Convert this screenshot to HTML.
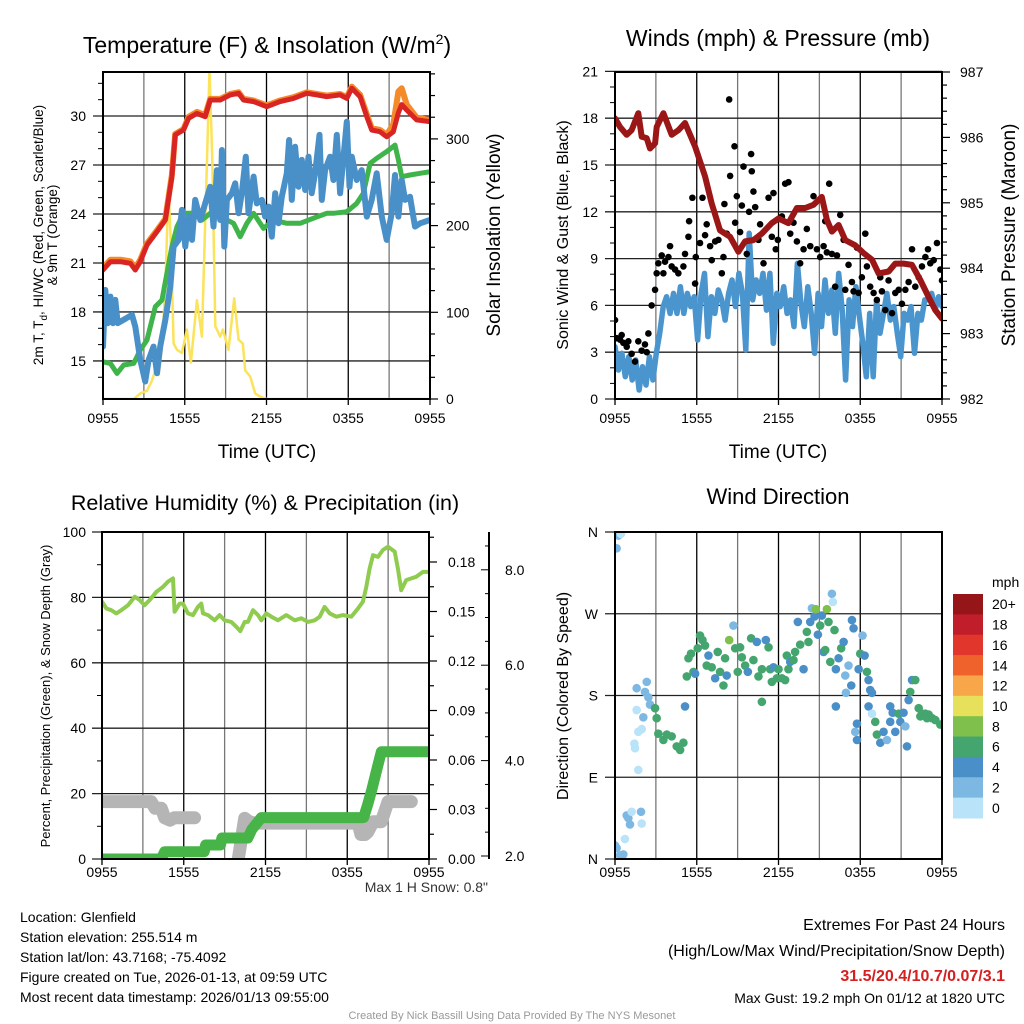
<!DOCTYPE html>
<html><head><meta charset="utf-8"><style>
html,body{margin:0;padding:0;background:#fff;}
svg{display:block;font-family:"Liberation Sans",Arial,sans-serif;}
</style></head><body>
<svg id="svg" width="1024" height="1024" viewBox="0 0 1024 1024" xmlns="http://www.w3.org/2000/svg">
<g id="g1"></g>
<g id="g2"></g>
<g id="g3"></g>
<g id="g4"></g>
<g id="txt">
<text x="20" y="922" font-size="14">Location: Glenfield</text>
<text x="20" y="942" font-size="14">Station elevation: 255.514 m</text>
<text x="20" y="962" font-size="14">Station lat/lon: 43.7168; -75.4092</text>
<text x="20" y="982" font-size="14">Figure created on Tue, 2026-01-13, at 09:59 UTC</text>
<text x="20" y="1002" font-size="14">Most recent data timestamp: 2026/01/13 09:55:00</text>
<text x="1005" y="930" font-size="16" text-anchor="end">Extremes For Past 24 Hours</text>
<text x="1005" y="956" font-size="16" text-anchor="end">(High/Low/Max Wind/Precipitation/Snow Depth)</text>
<text x="1005" y="981" font-size="16" font-weight="bold" fill="#d42020" text-anchor="end">31.5/20.4/10.7/0.07/3.1</text>
<text x="1005" y="1003" font-size="14" text-anchor="end">Max Gust: 19.2 mph On 01/12 at 1820 UTC</text>
<text x="488" y="892" font-size="14" fill="#333" text-anchor="end">Max 1 H Snow: 0.8"</text>
<text x="512" y="1019" font-size="11" fill="#999" text-anchor="middle">Created By Nick Bassill Using Data Provided By The NYS Mesonet</text>
</g>
</svg>
<script>
// ---------- DATA ----------
const timeTickLabels=["0955","1555","2155","0355","0955"];
// Panel 1
const tempHours=[0,0.54,1.27,2.0,2.37,2.74,3.23,3.96,4.57,5.06,5.30,5.91,6.28,6.89,7.50,7.87,8.60,9.34,9.95,10.31,11.05,12.02,13.0,13.98,14.96,15.69,16.42,17.40,17.89,18.26,18.87,19.36,19.72,20.33,20.82,21.31,21.68,21.92,22.29,23.02,24];
const tempValues=[20.57,21.08,21.08,20.98,20.57,21.08,22.1,22.92,23.63,26.28,28.84,29.14,29.86,30.16,29.96,30.98,30.98,31.29,31.39,30.98,30.88,30.57,30.88,31.08,31.39,31.29,31.18,31.29,31.08,31.7,31.18,29.96,29.14,29.04,28.73,29.04,30.2,30.7,30.37,29.76,29.65];
const temp9mValues=[20.7,21.2,21.2,21.1,20.7,21.2,22.2,23.0,23.7,26.4,28.9,29.2,29.95,30.25,30.05,31.05,31.05,31.35,31.45,31.05,30.95,30.65,30.95,31.15,31.45,31.35,31.25,31.35,31.15,31.8,31.3,30.1,29.25,29.15,28.85,29.5,31.5,31.7,30.7,29.9,29.75];
const dewHours=[0,0.54,1.03,1.52,2.25,2.74,3.23,3.84,4.33,4.69,5.06,5.43,5.91,6.65,7.26,7.87,8.36,9.09,9.58,10.07,10.56,11.05,11.78,12.51,13.49,14.47,15.45,16.42,16.91,17.89,18.62,19.11,19.6,20.09,20.82,21.43,21.68,21.92,22.53,23.27,24];
const dewValues=[14.95,14.85,14.24,14.75,14.85,15.67,16.28,18.32,18.73,20.37,22.0,23.22,24.04,24.04,23.63,24.04,23.83,23.63,23.43,22.61,23.43,24.04,23.12,23.63,23.43,23.43,23.74,24.04,24.04,24.14,24.65,25.27,27.1,27.41,27.82,28.22,27.31,26.28,26.39,26.49,26.59];
const chillHours=[0,0.17,0.34,0.54,0.73,0.90,1.08,2.13,2.37,2.74,3.10,3.35,3.71,3.96,4.20,4.57,4.94,5.18,5.55,5.79,6.04,6.28,6.53,6.77,7.14,7.50,7.87,8.11,8.36,8.60,8.73,8.90,9.09,9.46,9.70,9.95,10.19,10.48,10.68,11.05,11.29,11.66,11.90,12.15,12.39,12.64,12.88,13.12,13.49,13.66,13.86,14.10,14.35,14.59,14.84,15.08,15.32,15.57,15.89,16.06,16.30,16.67,16.91,17.16,17.40,17.89,18.09,18.26,18.62,18.99,19.36,19.72,20.09,20.46,20.82,21.19,21.43,21.68,21.92,22.17,22.53,22.90,23.27,24];
const chillValues=[15.88,19.35,17.31,18.94,17.31,18.74,17.31,17.82,17.1,15.06,13.74,15.06,15.88,14.25,15.88,17.51,19.55,22.0,22.41,24.25,22.0,23.84,22.41,24.86,23.63,24.65,25.67,23.23,26.69,23.63,27.92,22.0,24.86,25.27,25.88,24.04,25.27,27.51,24.04,26.29,24.65,24.86,23.84,24.45,22.61,25.27,23.43,25.06,26.49,28.53,24.86,28.12,25.67,27.31,25.47,27.51,25.27,26.49,28.84,24.86,26.69,27.51,26.08,28.84,25.27,29.65,25.67,27.51,26.08,26.69,23.84,24.86,26.49,23.84,22.41,24.04,26.39,23.84,26.08,24.86,25.06,23.23,23.43,23.63];
const solarHours=[0,2.25,2.74,3.23,3.59,3.84,4.08,4.33,4.57,4.81,4.99,5.18,5.43,5.79,6.16,6.45,6.89,7.26,7.63,7.82,8.02,8.24,8.60,8.80,9.21,9.63,9.95,10.26,10.44,10.80,11.17,11.54,12.02,24];
const solarValues=[0,0,6.5,9.6,21,33,27.7,60,129.5,243,175.7,64,56.8,53,80,42,114,72,275.7,380,275.7,84,72,80,56.8,116,68.4,64,33,26,6.5,2.7,0,0];
// Panel 2
const windValues=[3.35,1.86,2.93,1.43,2.71,1.22,2.5,0.58,2.07,0.9,2.71,1.22,2.93,4.21,5.92,6.56,5.49,6.77,5.49,7.2,5.49,6.77,5.92,6.56,3.78,6.77,8.05,4.0,6.56,5.49,6.99,6.35,5.06,6.77,7.63,5.92,8.05,6.77,3.14,10.62,6.35,7.63,6.77,8.05,5.7,8.05,3.57,6.77,5.92,7.2,5.49,6.35,4.64,8.69,6.13,4.64,7.2,5.49,2.93,6.77,4.64,7.63,5.49,6.99,4.21,8.05,5.7,1.22,6.35,4.64,7.2,5.28,3.57,1.43,5.49,1.43,6.35,4.21,5.49,6.77,5.06,5.92,4.21,2.71,5.49,5.06,5.92,2.93,5.49,5.06,6.35,6.35,6.77,5.7,6.56,5.92];
const gustHours=[0,0.12,0.37,0.49,0.61,0.86,0.98,1.22,1.47,1.71,1.96,2.2,2.33,2.45,2.69,2.94,3.06,3.18,3.43,3.55,3.67,3.92,4.04,4.16,4.41,4.65,5.02,5.14,5.39,5.44,5.68,5.88,5.93,6.24,6.42,6.61,6.73,6.98,7.10,7.35,7.59,7.84,7.96,8.03,8.2,8.38,8.45,8.77,8.82,8.94,9.18,9.31,9.43,9.67,9.84,9.99,10.04,10.16,10.29,10.53,10.65,10.9,11.27,11.51,11.63,11.8,11.95,12.25,12.49,12.73,12.86,13.1,13.35,13.59,13.84,14.08,14.33,14.57,14.82,15.06,15.31,15.43,15.55,15.72,15.92,16.16,16.29,16.53,16.78,16.9,17.14,17.39,17.51,17.76,17.88,18.12,18.37,18.49,18.73,18.98,19.22,19.47,19.59,19.84,20.08,20.33,20.57,20.82,21.06,21.31,21.55,21.8,22.04,22.29,22.53,22.78,22.97,23.14,23.39,23.63,23.88,24.0];
const gustValues=[5.06,3.9,3.8,4.1,3.6,3.35,3.7,2.9,2.4,3.7,3.1,3.5,3.0,4.2,6.0,7.0,8.06,8.7,9.2,8.06,8.8,9.1,9.8,8.5,8.3,8.06,8.5,9.3,10.4,11.4,12.9,7.4,9.1,10.0,12.9,10.5,11.2,9.8,8.9,10.1,10.2,8.06,9.1,12.5,10.6,19.2,14.3,16.2,11.3,13.0,10.7,12.4,14.9,9.3,12.0,15.7,14.6,13.3,12.3,10.2,11.2,8.7,12.9,10.4,13.2,9.6,10.2,11.7,13.8,13.9,10.6,11.3,10.1,8.7,9.6,10.9,9.8,13.0,9.6,9.1,9.8,11.4,9.4,13.8,9.3,7.2,9.2,11.8,10.2,7.0,8.6,7.5,6.9,9.7,6.8,7.8,10.6,8.5,7.2,6.8,6.35,7.8,6.9,5.7,7.6,5.5,6.8,7.0,6.1,7.0,7.5,9.6,7.2,7.8,8.5,9.1,9.6,8.7,8.9,10.0,8.3,7.6];
const pressHours=[0,0.37,0.86,1.22,1.71,1.96,2.33,2.57,2.94,3.06,3.55,4.16,4.65,5.14,5.51,5.88,6.61,7.10,7.71,8.45,9.06,9.55,10.16,10.78,11.51,12.0,12.73,13.35,13.96,14.57,15.18,15.55,15.92,16.41,16.90,17.63,18.25,18.86,19.35,20.08,20.57,21.18,21.80,22.41,23.02,23.51,24];
const pressValues=[986.29,986.16,986.04,986.11,986.37,986.01,985.99,985.83,985.91,986.16,986.37,986.04,986.11,986.22,986.04,985.86,985.4,984.99,984.58,984.48,984.25,984.41,984.43,984.53,984.69,984.76,984.69,984.92,984.92,984.97,985.09,984.74,984.56,984.66,984.43,984.35,984.23,984.13,983.92,983.95,984.07,984.07,984.05,983.82,983.56,983.36,983.23];
// Panel 3
const rhHours=[0,0.32,0.68,1.05,1.42,1.91,2.40,2.76,3.13,3.50,3.99,4.48,4.84,5.21,5.33,5.70,5.94,6.31,6.68,7.04,7.29,7.41,7.78,8.27,8.63,9.0,9.49,9.86,10.15,10.47,10.71,11.08,11.45,11.69,12.06,12.43,12.91,13.53,14.14,14.63,15.12,15.61,15.98,16.34,16.71,17.20,17.69,18.30,18.79,19.15,19.40,19.64,19.89,20.25,20.62,20.99,21.48,21.72,21.96,22.33,22.70,23.06,23.56,24];
const rhValues=[78.7,76.6,76.1,75.1,76.1,77.6,80.2,79.2,77.6,79.2,81.7,83.2,84.8,85.8,75.6,78.1,78.1,75.1,74.6,77.1,78.1,75.1,74.6,73.0,74.6,73.0,72.5,71.0,69.7,72.5,72.5,76.1,74.6,73.0,75.1,74.1,73.0,74.6,73.0,73.6,72.5,73.0,74.1,77.1,75.1,74.1,74.6,74.1,76.6,78.7,83.2,88.8,92.9,92.4,94.5,95.5,94.0,88.8,82.2,85.3,85.8,86.3,87.8,87.8];
const precipHours=[0,4.35,4.6,7.5,7.6,8.7,8.8,10.7,11.0,11.4,11.7,19.2,19.5,19.8,20.1,20.5,24];
const precipValues=[0,0,0.0044,0.0044,0.0085,0.0085,0.0127,0.0127,0.018,0.022,0.0251,0.0251,0.033,0.042,0.052,0.065,0.065];
const snowHours=[0,1,2,3,3.6,3.9,4.35,4.6,5.0,5.3,5.6,6.2,6.8,null,9.98,10.2,10.47,10.8,11.2,11.7,13,15,17,18.5,18.8,19.0,19.3,19.5,19.9,20.5,21.0,21.5,22.0,22.5,22.7];
const snowValues=[3.14,3.14,3.14,3.14,3.14,3.0,3.0,2.8,2.75,2.8,2.8,2.8,2.8,null,1.9,2.3,2.79,2.72,2.69,2.69,2.69,2.69,2.69,2.69,2.69,2.45,2.45,2.5,2.72,2.72,3.14,3.14,3.14,3.14,3.14];
// Panel 4
const dirHours=[0.12,0.24,0.44,0,0.12,0.37,0.61,0.73,0.98,0.86,1.22,1.10,1.91,1.96,1.71,1.47,1.42,1.71,1.96,1.59,2.08,1.59,2.20,2.33,2.45,2.57,2.94,3.06,3.18,3.55,3.80,4.16,4.53,4.78,5.02,5.14,5.27,5.39,5.58,5.76,5.88,6.07,6.24,6.42,6.61,6.73,6.86,7.10,7.35,7.54,7.71,7.96,8.08,8.20,8.38,8.69,8.82,9.01,9.18,9.31,9.55,9.75,9.99,10.16,10.41,10.53,10.78,11.07,11.27,11.39,11.51,11.63,11.88,12.0,12.25,12.49,12.61,12.73,12.86,13.10,10.78,13.22,13.42,13.59,13.84,14.08,14.20,14.33,14.45,14.65,14.74,14.89,15.06,15.18,15.31,15.43,15.55,15.67,15.80,15.92,15.99,16.11,16.21,16.41,16.60,16.78,16.90,17.14,17.34,17.39,17.51,17.88,18.0,18.17,18.32,18.49,18.61,18.73,18.86,16.21,16.95,18.61,18.86,17.76,17.63,17.76,19.10,19.22,19.47,19.71,19.96,20.20,20.20,20.38,20.57,20.82,20.94,21.18,21.31,21.43,21.55,21.67,21.80,22.04,22.29,22.53,22.78,23.02,23.27,23.51,23.88,22.41,22.90];
const dirValues=[342,356,358,15,12,4,5,22,45,48,52,38,52,39,98,122,127,140,143,164,156,188,184,195,178,170,166,155,138,131,137,135,124,120,128,168,201,221,226,206,204,232,246,241,235,213,224,211,199,228,206,191,221,202,241,257,232,206,233,222,213,206,243,219,239,201,209,241,233,209,195,211,199,209,199,197,224,209,217,219,173,228,261,236,209,250,239,261,276,267,275,247,257,268,228,230,275,261,217,292,283,252,209,221,232,239,202,213,191,263,254,209,226,246,224,206,197,186,183,168,183,168,160,149,140,131,151,137,128,140,131,168,151,161,140,160,151,161,146,124,175,184,197,197,166,160,160,159,155,153,148,157,155];
const dirSpeeds=[2,2,1,2,2,2,2,1,2,2,1,2,3,1,1,1,1,1,1,1,2,2,2,2,3,3,6,6,6,6,6,6,6,6,6,4,6,6,6,6,4,6,6,7,6,6,4,6,4,6,6,7,6,4,8,2,6,6,7,6,6,4,7,7,4,7,6,4,6,6,6,4,6,6,6,6,6,7,4,6,6,6,4,6,4,6,6,4,3,4,8,4,6,4,4,6,8,6,6,2,1,6,4,4,7,4,2,2,4,4,4,4,6,2,4,6,4,4,4,4,2,4,1,4,2,4,6,6,4,4,2,4,4,4,4,6,4,4,2,4,4,6,4,6,6,6,6,6,6,6,6,6,6,6,6,6,6,6,6,6];
const speedColors=["#b9e3f8","#7db8e3","#4a8fc7","#45a56f","#7fc04c","#e6e05a","#f7a74a","#f0622c","#e0362c","#c01e2a","#951519"];
const speedLabels=["0","2","4","6","8","10","12","14","16","18","20+"];

// ---------- HELPERS ----------
const NS="http://www.w3.org/2000/svg";
function mk(parent,tag,attrs){const e=document.createElementNS(NS,tag);for(const k in attrs)e.setAttribute(k,attrs[k]);parent.appendChild(e);return e;}
function txt(parent,x,y,s,size,anchor,extra){const t=mk(parent,"text",Object.assign({x:x,y:y,"font-size":size,"text-anchor":anchor||"middle"},extra||{}));t.textContent=s;return t;}
function panel(g,L,R,T,B,clipId,labOff){
  const defs=mk(g,"defs",{});const cp=mk(defs,"clipPath",{id:clipId});mk(cp,"rect",{x:L,y:T,width:R-L,height:B-T});
  for(let i=1;i<8;i++){const x=L+(R-L)*i/8;const gl=mk(g,"line",{x1:x,x2:x,y1:T,y2:B,stroke:i%2==0?"#000":"#777","stroke-width":1.3});
    
    }
  const xs=h=>L+(R-L)*h/24;
  timeTickLabels.forEach((lab,i)=>{const x=L+(R-L)*i/4;const t=txt(g,x,B+labOff,lab,14);
    
    
    mk(g,"line",{x1:x,x2:x,y1:B,y2:B+6,stroke:"#000","stroke-width":1.3});});
  return xs;
}
function hgrid(g,L,R,y,lab,lx){const l=mk(g,"line",{x1:L-10,x2:R,y1:y,y2:y,stroke:"#222","stroke-width":1.3});
  
  
  if(lab!==null){const t=txt(g,lx,y+5,lab,14,"end");
    
    }}
function frame(g,L,R,T,B){const r=mk(g,"rect",{x:L,y:T,width:R-L,height:B-T,fill:"none",stroke:"#000","stroke-width":2});
  
  }
function path(g,hs,vs,xs,ys,stroke,w,clip,name){let d="";let pen=false;
  for(let i=0;i<hs.length;i++){if(hs[i]===null||vs[i]===null){pen=false;continue;}d+=(pen?"L":"M")+xs(hs[i]).toFixed(1)+","+ys(vs[i]).toFixed(1);pen=true;}
  const p=mk(g,"path",{d:d,fill:"none",stroke:stroke,"stroke-width":w,"stroke-linejoin":"round","stroke-linecap":"round","clip-path":"url(#"+clip+")"});
  
  
  return p;}
function rticks(g,R,ys,lo,hi,step,minorStep,labels,lx){
  for(let v=lo;v<=hi+1e-9;v+=minorStep){const y=ys(v);const major=Math.abs(Math.round(v/step)*step-v)<1e-6;
    mk(g,"line",{x1:R,x2:R+(major?8:5),y1:y,y2:y,stroke:"#000","stroke-width":1.2});
    if(major&&labels){const t=txt(g,lx,y+5,labels(v),14,"start");
      
      }}
}

// ---------- PANEL 1 ----------
(function(){const g=document.getElementById("g1");const L=103,R=430,T=72,B=399;
  const xs=panel(g,L,R,T,B,"c1",24);
  const ys=v=>116+(30-v)*16.33;const ysol=v=>399-v*0.867;
  [30,27,24,21,18,15].forEach(v=>hgrid(g,L,R,ys(v),String(v),86));
  for(let v=14;v<=32;v++){if(v%3)mk(g,"line",{x1:L-5,x2:L,y1:ys(v),y2:ys(v),stroke:"#000"});}
  rticks(g,R,ysol,0,375,100,25,v=>String(v),446);
  path(g,solarHours,solarValues,xs,ysol,"#fbe35a",2.5,"c1","solar-insolation-line");
  path(g,dewHours,dewValues,xs,ys,"#3fb44a",5,"c1","dewpoint-line");
  path(g,chillHours,chillValues,xs,ys,"#4a90c8",6,"c1","wind-chill-line");
  path(g,tempHours,temp9mValues,xs,ys,"#f58a2a",6,"c1","temp-9m-line");
  path(g,tempHours,tempValues,xs,ys,"#d92424",5,"c1","temp-2m-line");
  frame(g,L,R,T,B);
  const t=mk(g,"text",{x:267,y:53,"font-size":23,"text-anchor":"middle"});t.innerHTML='Temperature (F) &amp; Insolation (W/m<tspan font-size="14" dy="-9">2</tspan><tspan dy="9">)</tspan>';
  
  
  const xt=txt(g,267,458,"Time (UTC)",19);
  const y1=mk(g,"text",{transform:"translate(43,235) rotate(-90)","font-size":13.5,"text-anchor":"middle"});y1.innerHTML='2m T, T<tspan font-size="10" dy="4">d</tspan><tspan dy="-4">, HI/WC (Red, Green, Scarlet/Blue)</tspan>';
  
  const y2=txt(g,0,0,"& 9m T (Orange)",13.5,"middle",{transform:"translate(57,235) rotate(-90)"});
  const y3=txt(g,0,0,"Solar Insolation (Yellow)",19,"middle",{transform:"translate(500,235) rotate(-90)"});
})();

// ---------- PANEL 2 ----------
(function(){const g=document.getElementById("g2");const L=615,R=942,T=72,B=399;
  const xs=panel(g,L,R,T,B,"c2",24);
  const ys=v=>399-v*15.6;const yp=p=>399-(p-982)*65.4;
  [21,18,15,12,9,6,3,0].forEach(v=>hgrid(g,L,R,ys(v),String(v),598));
  for(let v=1;v<21;v++){if(v%3)mk(g,"line",{x1:L-5,x2:L,y1:ys(v),y2:ys(v),stroke:"#000"});}
  rticks(g,R,yp,982,987,1,0.2,v=>String(Math.round(v)),960);
  path(g,windValues.map((v,i)=>i*24/(windValues.length-1)),windValues,xs,ys,"#4b95cf",5.5,"c2","sonic-wind-line");
  gustHours.forEach((h,i)=>{const c=mk(g,"circle",{cx:xs(h),cy:ys(gustValues[i]),r:3.3,fill:"#000","clip-path":"url(#c2)"});
    
    });
  path(g,pressHours,pressValues,xs,yp,"#9b1616",6,"c2","pressure-line");
  frame(g,L,R,T,B);
  const t=txt(g,778,46,"Winds (mph) & Pressure (mb)",23);
  const xt=txt(g,778,458,"Time (UTC)",19);
  const y1=txt(g,0,0,"Sonic Wind & Gust (Blue, Black)",16,"middle",{transform:"translate(568,235) rotate(-90)"});
  const y2=txt(g,0,0,"Station Pressure (Maroon)",19,"middle",{transform:"translate(1015,235) rotate(-90)"});
})();

// ---------- PANEL 3 ----------
(function(){const g=document.getElementById("g3");const L=102,R=429,T=532,B=859;
  const xs=panel(g,L,R,T,B,"c3",18);
  const ys=v=>859-v*3.27;const ypr=v=>859-v*1650;const ysn=v=>856-(v-2)*47.7;
  [100,80,60,40,20,0].forEach(v=>hgrid(g,L,R,ys(v),String(v),86));
  for(let v=10;v<100;v+=20)mk(g,"line",{x1:L-5,x2:L,y1:ys(v),y2:ys(v),stroke:"#000"});
  rticks(g,R,ypr,0,0.195,0.03,0.015,v=>v.toFixed(2),448);
  mk(g,"line",{x1:489,x2:489,y1:532,y2:859,stroke:"#000","stroke-width":2});
  for(let v=2;v<=8.75;v+=0.5){const major=Math.abs(v-Math.round(v/2)*2)<1e-6;mk(g,"line",{x1:489,x2:489-(major?8:4),y1:ysn(v),y2:ysn(v),stroke:"#000"});
    if(major){const tl=txt(g,505,ysn(v)+5,v.toFixed(1),14,"start");}}
  path(g,snowHours,snowValues,xs,ysn,"#b5b5b5",13,"c3","snow-depth-line");
  path(g,precipHours,precipValues,xs,ypr,"#46b447",11,"c3","precipitation-line");
  path(g,rhHours,rhValues,xs,ys,"#8fcb4e",4,"c3","relative-humidity-line");
  frame(g,L,R,T,B);
  const t=txt(g,265,510,"Relative Humidity (%) & Precipitation (in)",21.5);
  const y1=txt(g,0,0,"Percent, Precipitation (Green), & Snow Depth (Gray)",13,"middle",{transform:"translate(50,696) rotate(-90)"});
})();

// ---------- PANEL 4 ----------
(function(){const g=document.getElementById("g4");const L=615,R=942,T=532,B=859;
  const xs=panel(g,L,R,T,B,"c4",18);
  const ys=d=>859-d/360*327;
  [[360,"N"],[270,"W"],[180,"S"],[90,"E"],[0,"N"]].forEach(p=>hgrid(g,L,R,ys(p[0]),p[1],598));
  dirHours.forEach((h,i)=>{const s=(dirSpeeds[i]===undefined)?6:dirSpeeds[i];const ci=Math.min(10,Math.floor(s/2));
    const c=mk(g,"circle",{cx:xs(h),cy:ys(dirValues[i]),r:4.3,fill:speedColors[ci],"clip-path":"url(#c4)"});
    
    });
  frame(g,L,R,T,B);
  const t=txt(g,778,504,"Wind Direction",22);
  const y1=txt(g,0,0,"Direction (Colored By Speed)",16,"middle",{transform:"translate(568,696) rotate(-90)"});
  const bh=(818-594)/11;
  for(let i=0;i<11;i++){const idx=10-i;const y=594+i*bh;
    const r=mk(g,"rect",{x:953,y:y,width:30,height:bh+0.5,fill:speedColors[idx]});
    
    
    const tl=txt(g,992,y+bh/2+5,speedLabels[idx],14,"start");
    
    }
  const u=txt(g,992,587,"mph",14,"start");
})();
</script>
</body></html>
